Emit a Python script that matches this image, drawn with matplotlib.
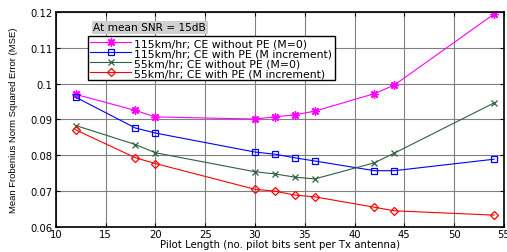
import matplotlib
matplotlib.use("Agg")
import matplotlib.pyplot as plt

pilot_length = [12, 18, 20, 30, 32, 34, 36, 42, 44, 54]
mse_115_no_pe = [0.0970, 0.0925, 0.0907, 0.0901, 0.0907, 0.0913, 0.0923, 0.0972, 0.0996, 0.1194]
mse_115_pe = [0.0962, 0.0876, 0.0862, 0.0809, 0.0803, 0.0793, 0.0784, 0.0757, 0.0757, 0.0789]
mse_55_no_pe = [0.0883, 0.0830, 0.0807, 0.0754, 0.0748, 0.0739, 0.0734, 0.0779, 0.0806, 0.0946]
mse_55_pe = [0.0871, 0.0793, 0.0777, 0.0705, 0.0700, 0.0689, 0.0684, 0.0655, 0.0645, 0.0633]
labels = ["115km/hr; CE without PE (M=0)", "115km/hr; CE with PE (M increment)",
          "55km/hr; CE without PE (M=0)", "55km/hr; CE with PE (M increment)"]
xticks = [10, 15, 20, 25, 30, 35, 40, 45, 50, 55]
yticks = [0.06, 0.07, 0.08, 0.09, 0.1, 0.11, 0.12]
ytick_labels = ["0.06", "0.07", "0.08", "0.09", "0.1", "0.11", "0.12"]

plt.rcParams['font.family'] = ['DejaVu Sans']

fig = plt.figure(figsize=(5.07, 2.53), dpi=100)
ax = fig.add_axes([0.110, 0.099, 0.884, 0.850])

lw = 0.8
ax.plot(pilot_length, mse_115_no_pe, color='#ff00ff', marker=(8, 2, 0), markersize=6, lw=lw, label=labels[0])
ax.plot(pilot_length, mse_115_pe, color='#0000ff', marker='s', markersize=5, mfc='none', mew=0.9, lw=lw, label=labels[1])
ax.plot(pilot_length, mse_55_no_pe, color='#2f5f3f', marker='x', markersize=5, mew=0.9, lw=lw, label=labels[2])
ax.plot(pilot_length, mse_55_pe, color='#ff0000', marker='D', markersize=4, mfc='none', mew=0.9, lw=lw, label=labels[3])

ax.set_xlim(10, 55)
ax.set_ylim(0.06, 0.12)
ax.set_xticks(xticks)
ax.set_yticks(yticks)
ax.set_yticklabels(ytick_labels)
ax.grid(True, color='#808080', lw=0.8)
ax.set_axisbelow(True)
ax.tick_params(direction='in', top=True, right=True, labelsize=7.2, length=3, width=0.8)
ax.tick_params(axis='x', pad=1.5)
ax.tick_params(axis='y', pad=2.5)
for s in ax.spines.values():
    s.set_linewidth(1.2)

ax.set_xlabel("Pilot Length (no. pilot bits sent per Tx antenna)", fontsize=7.3, labelpad=0)
ax.set_ylabel("Mean Frobenius Norm Squared Error (MSE)", fontsize=6.8, labelpad=9,
              family=['Liberation Sans Narrow', 'Liberation Sans', 'DejaVu Sans'])

leg = ax.legend(loc='upper left', bbox_to_anchor=(0.0714, 0.888), fontsize=7.8,
                frameon=True, fancybox=False, edgecolor='black', framealpha=1,
                borderpad=0.2, labelspacing=0.0, handlelength=3.8, handletextpad=0.3,
                borderaxespad=0)
leg.get_frame().set_linewidth(1.0)

ax.text(0.084, 0.928, "At mean SNR = 15dB", transform=ax.transAxes, fontsize=7.6,
        va='center', ha='left',
        bbox=dict(boxstyle='square,pad=0.15', fc='#d0d0d0', ec='none'))

fig.savefig("out.png", dpi=100)
